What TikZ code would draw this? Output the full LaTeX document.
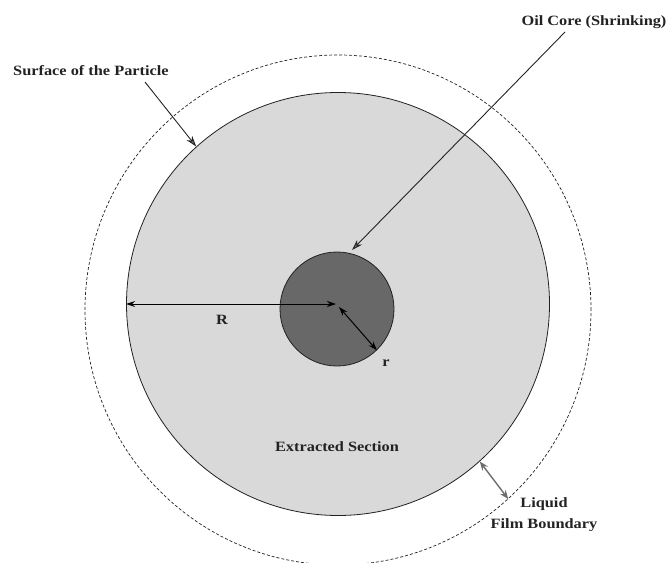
\documentclass[tikz,border=0pt]{standalone}
\usepackage{fontspec}
\setmainfont{Liberation Serif}[FakeStretch=1.15]
\usetikzlibrary{arrows.meta,shapes.geometric}
\definecolor{lightfill}{RGB}{217,217,217}
\definecolor{corefill}{RGB}{104,104,104}
\definecolor{ink}{RGB}{34,34,34}
\definecolor{tipgray}{RGB}{110,110,110}
\begin{document}
\begin{tikzpicture}[x=1pt,y=-1pt,
  lbl/.style={font=\bfseries\fontsize{14.2}{21}\selectfont, inner sep=0pt, text=ink},
  arr/.style={-{Stealth[length=11pt,width=7pt,fill=tipgray]}, draw=ink, line width=0.9pt},
  dimarr/.style={{Stealth[length=9pt,width=6pt]}-{Stealth[length=9pt,width=6pt]}, draw=black, line width=1pt},
  filmarr/.style={{Stealth[length=9pt,width=7pt]}-{Stealth[length=9pt,width=7pt]}, draw=tipgray, line width=1.4pt}]
\useasboundingbox (0,0) rectangle (668,562);
\node[ellipse, draw=ink, dashed, dash pattern=on 3pt off 2pt, line width=0.7pt,
      minimum width=506pt, minimum height=510pt, inner sep=0pt] (film) at (338,310) {};
\node[circle, draw=ink, fill=lightfill, line width=0.8pt, minimum size=423pt, inner sep=0pt] (particle) at (338,304) {};
\node[circle, draw=ink, fill=corefill, line width=0.8pt, minimum size=114pt, inner sep=0pt] (core) at (337,309) {};
\coordinate (cR) at (336,304);
\coordinate (cr) at (339,307);
\draw[dimarr] (particle.west) -- (cR);
\draw[dimarr] (cr) -- (core.-46);
\node[lbl] (Rlab) at (222,320) {R};
\node[lbl] (rlab) at (386,363) {r};
\node[lbl] (extract) at (337,447) {Extracted Section};
\node[lbl, anchor=west] (surf) at (13,71) {Surface of the Particle};
\coordinate (surfstart) at (145,82);
\draw[arr] (surfstart) -- (particle.132);
\node[lbl] (oil) at (594,22) {Oil Core (Shrinking)};
\coordinate (oilstart) at (565,32);
\coordinate (oilend) at (352,250);
\draw[arr] (oilstart) -- (oilend);
\draw[filmarr] (particle.-48) -- (film.-48);
\node[lbl, align=center] (filmlab) at (544,515) {Liquid\\Film Boundary};
\end{tikzpicture}
\end{document}
